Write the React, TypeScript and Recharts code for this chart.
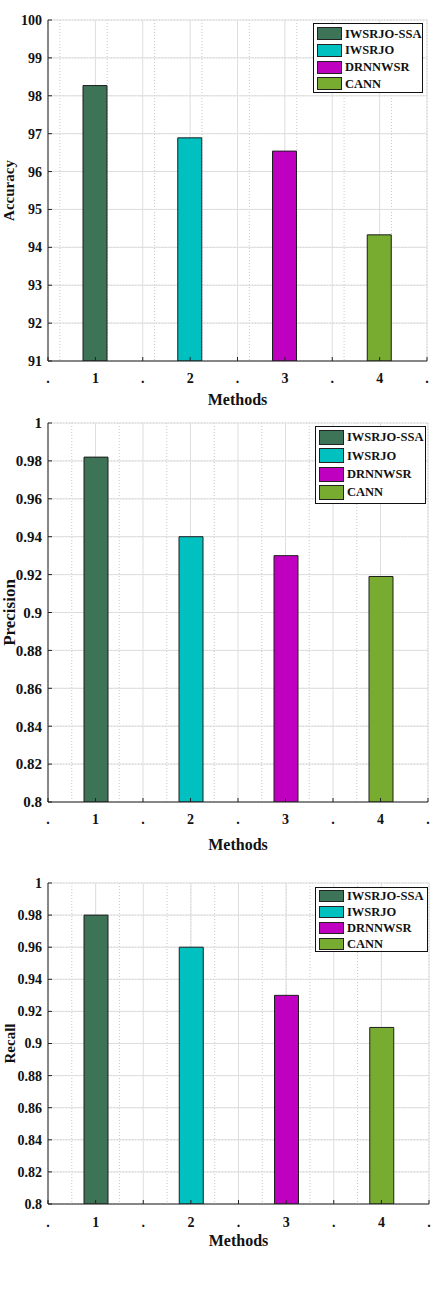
import React from 'react';
import { BarChart, Bar, XAxis, YAxis, CartesianGrid, Cell, Legend } from 'recharts';

// Methods compared, their slot on the x axis and their bar colours
const methods = ['IWSRJO-SSA', 'IWSRJO', 'DRNNWSR', 'CANN'];
const methodPositions = [1, 2, 3, 4];
const methodColors = ['#3d7357', '#00c0c0', '#c000c0', '#77ac30'];

// Metric values per method
const accuracyValues = [98.27, 96.89, 96.54, 94.33];
const precisionValues = [0.982, 0.94, 0.93, 0.919];
const recallValues = [0.98, 0.96, 0.93, 0.91];

// Axis ticks
const xTicks = [0.5, 1, 1.5, 2, 2.5, 3, 3.5, 4, 4.5];
const accuracyTicks = [91, 92, 93, 94, 95, 96, 97, 98, 99, 100];
const ratioTicks = [0.8, 0.82, 0.84, 0.86, 0.88, 0.9, 0.92, 0.94, 0.96, 0.98, 1];

const FONT = "'Liberation Serif', 'Times New Roman', serif";
const INK = '#111';

// evenly spaced values used for the minor (dotted) grid
const steps = (start: number, end: number, step: number) => {
  const out: number[] = [];
  for (let i = 0; start + i * step <= end + 1e-9; i++) out.push(+(start + i * step).toFixed(6));
  return out;
};

const xTickText = (v: number) => (Number.isInteger(v) ? String(v) : '.');
const ratioText = (v: number) => String(parseFloat(v.toFixed(2)));

type LegendCfg = {
  left: number;
  top: number;
  width: number;
  height: number;
  rowH: number;
  padTop: number;
  swatchH: number;
};

type PanelCfg = {
  title: string;
  values: number[];
  domain: [number, number];
  ticks: number[];
  tickText?: (v: number) => string;
  minorY: number;
  top: number;
  height: number;
  margin: { top: number; right: number; left: number; bottom: number };
  xAxisHeight: number;
  xTickMargin: number;
  methodsOffset: number;
  tickFont: number;
  titleFont: number;
  titleX: number;
  legend: LegendCfg;
};

const MethodLegend = ({ cfg }: { cfg: LegendCfg }) => (
  <div
    style={{
      width: cfg.width,
      height: cfg.height,
      boxSizing: 'border-box',
      border: '1.5px solid #111',
      background: '#fff',
      paddingTop: cfg.padTop,
      paddingLeft: 3,
    }}
  >
    {methods.map((m, i) => (
      <div key={m} style={{ display: 'flex', alignItems: 'center', height: cfg.rowH }}>
        <div
          style={{
            width: 25,
            height: cfg.swatchH,
            boxSizing: 'border-box',
            border: '1px solid #222',
            background: methodColors[i],
            marginRight: 3,
          }}
        />
        <span
          style={{
            fontFamily: FONT,
            fontWeight: 'bold',
            fontSize: 12.5,
            color: INK,
            lineHeight: 1,
            whiteSpace: 'nowrap',
          }}
        >
          {m}
        </span>
      </div>
    ))}
  </div>
);

const Panel = ({ cfg }: { cfg: PanelCfg }) => {
  const data = methods.map((name, i) => ({
    name,
    pos: methodPositions[i],
    value: cfg.values[i],
  }));
  const [lo, hi] = cfg.domain;

  return (
    <div style={{ position: 'absolute', left: 0, top: cfg.top }}>
      <BarChart width={435} height={cfg.height} data={data} margin={cfg.margin}>
        {/* minor dotted grid, driven by two hidden axes */}
        <CartesianGrid xAxisId="minor" yAxisId="minor" stroke="#c8c8c8" strokeDasharray="1 2" />
        {/* major solid grid */}
        <CartesianGrid stroke="#dedede" />
        <XAxis
          xAxisId="minor"
          type="number"
          dataKey="pos"
          domain={[0.5, 4.5]}
          ticks={steps(0.5, 4.5, 0.125)}
          allowDataOverflow
          hide
        />
        <YAxis
          yAxisId="minor"
          type="number"
          domain={cfg.domain}
          ticks={steps(lo, hi, cfg.minorY)}
          allowDataOverflow
          hide
        />
        <XAxis
          type="number"
          dataKey="pos"
          domain={[0.5, 4.5]}
          ticks={xTicks}
          allowDataOverflow
          height={cfg.xAxisHeight}
          tickSize={-4}
          tickMargin={cfg.xTickMargin}
          tickFormatter={xTickText}
          axisLine={{ stroke: '#222' }}
          tickLine={{ stroke: '#222' }}
          tick={{ fill: INK, fontFamily: FONT, fontSize: 14, fontWeight: 'bold' }}
          label={(p: any) => {
            const vb = p.viewBox || {};
            return (
              <text
                x={(vb.x ?? 48) + (vb.width ?? 380) / 2}
                y={(vb.y ?? 0) + cfg.methodsOffset}
                textAnchor="middle"
                fill={INK}
                fontFamily={FONT}
                fontWeight="bold"
                fontSize={16}
              >
                Methods
              </text>
            );
          }}
        />
        <YAxis
          type="number"
          domain={cfg.domain}
          ticks={cfg.ticks}
          allowDataOverflow
          width={48}
          tickSize={-4}
          tickMargin={10}
          tickFormatter={cfg.tickText}
          axisLine={{ stroke: '#222' }}
          tickLine={{ stroke: '#222' }}
          tick={{ fill: INK, fontFamily: FONT, fontSize: cfg.tickFont, fontWeight: 'bold' }}
          label={(p: any) => {
            const vb = p.viewBox || {};
            const cy = (vb.y ?? 0) + (vb.height ?? 0) / 2;
            return (
              <text
                x={cfg.titleX}
                y={cy}
                transform={`rotate(-90, ${cfg.titleX}, ${cy})`}
                textAnchor="middle"
                fill={INK}
                fontFamily={FONT}
                fontWeight="bold"
                fontSize={cfg.titleFont}
              >
                {cfg.title}
              </text>
            );
          }}
        />
        <Legend
          layout="horizontal"
          verticalAlign="middle"
          content={() => <MethodLegend cfg={cfg.legend} />}
          wrapperStyle={{
            position: 'absolute',
            left: cfg.legend.left,
            top: cfg.legend.top,
            width: cfg.legend.width,
            height: cfg.legend.height,
            margin: 0,
          }}
        />
        <Bar dataKey="value" barSize={24} stroke="#1e1e1e" strokeWidth={1} isAnimationActive={false}>
          {data.map((d, i) => (
            <Cell key={d.name} fill={methodColors[i]} />
          ))}
        </Bar>
      </BarChart>
    </div>
  );
};

const panels: PanelCfg[] = [
  {
    title: 'Accuracy',
    values: accuracyValues,
    domain: [91, 100],
    ticks: accuracyTicks,
    minorY: 0.5,
    top: 0,
    height: 410,
    margin: { top: 20, right: 8, left: 0, bottom: 0 },
    xAxisHeight: 49,
    xTickMargin: 16,
    methodsOffset: 44,
    tickFont: 14,
    titleFont: 15,
    titleX: 14,
    legend: { left: 313, top: 23, width: 110, height: 70, rowH: 16.7, padTop: 1.5, swatchH: 13 },
  },
  {
    title: 'Precision',
    values: precisionValues,
    domain: [0.8, 1],
    ticks: ratioTicks,
    tickText: ratioText,
    minorY: 0.01,
    top: 410,
    height: 450,
    margin: { top: 13, right: 7, left: 0, bottom: 0 },
    xAxisHeight: 58,
    xTickMargin: 16,
    methodsOffset: 48,
    tickFont: 15,
    titleFont: 17,
    titleX: 15,
    legend: { left: 315, top: 16, width: 111, height: 78, rowH: 18.3, padTop: 1.5, swatchH: 15 },
  },
  {
    title: 'Recall',
    values: recallValues,
    domain: [0.8, 1],
    ticks: ratioTicks,
    tickText: ratioText,
    minorY: 0.01,
    top: 860,
    height: 447,
    margin: { top: 23, right: 6, left: 0, bottom: 43 },
    xAxisHeight: 60,
    xTickMargin: 17,
    methodsOffset: 42,
    tickFont: 14,
    titleFont: 15,
    titleX: 15,
    legend: { left: 315, top: 27, width: 113, height: 65, rowH: 16, padTop: 0, swatchH: 12.5 },
  },
];

export default function App() {
  return (
    <div style={{ position: 'absolute', left: 0, top: 0, width: 435, height: 1307, background: '#fff' }}>
      {panels.map((p) => (
        <Panel key={p.title} cfg={p} />
      ))}
    </div>
  );
}
